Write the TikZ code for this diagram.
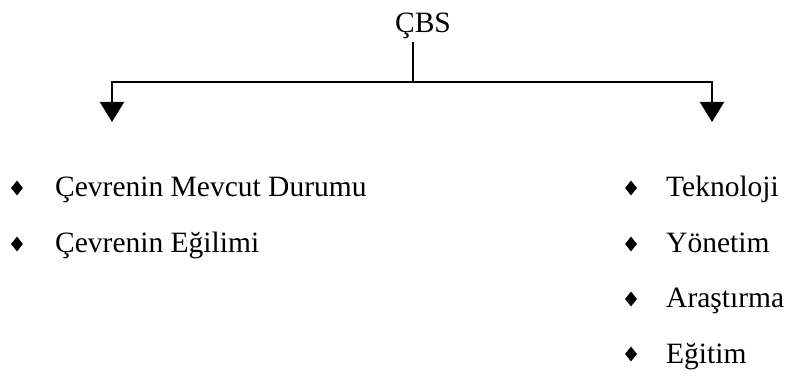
\documentclass[tikz,border=0pt]{standalone}
\usepackage{fontspec}
\setmainfont{Liberation Serif}
\usepackage{tikz}
\usetikzlibrary{positioning, shapes.geometric, arrows.meta}

\begin{document}
\begin{tikzpicture}[x=1pt,y=-1pt,
        every node/.style={font=\fontsize{29.5}{34}\selectfont},
        item/.style={anchor=base west,inner sep=0pt},
        bullet/.style={diamond,fill=black,inner sep=0pt,minimum width=12pt,minimum height=15pt},
        branch/.style={line width=2pt,-{Triangle[width=24pt,length=20pt]}}]
        \useasboundingbox (0,0) rectangle (793,382);

        \node[anchor=base,inner sep=0pt] (cbs) at (423,33) {ÇBS};
        \coordinate (stem) at (413,42);
        \coordinate (fork) at (413,82);
        \coordinate (left) at (112,122);
        \coordinate (right) at (712,122);

        % left column
        \node[bullet] (b1) at (17,188) {};
        \node[bullet] (b2) at (17,244) {};
        \node[item] (l1) at (55,197) {Çevrenin Mevcut Durumu};
        \node[item] (l2) at (55,253) {Çevrenin Eğilimi};

        % right column
        \node[bullet] (b3) at (631,188) {};
        \node[bullet] (b4) at (631,244) {};
        \node[bullet] (b5) at (631,299) {};
        \node[bullet] (b6) at (631,354) {};
        \node[item] (r1) at (666,197) {Teknoloji};
        \node[item] (r2) at (666,253) {Yönetim};
        \node[item] (r3) at (666,308) {Araştırma};
        \node[item] (r4) at (666,363) {Eğitim};

        \draw[line width=2pt] (stem) -- (fork);
        \draw[branch] (fork) -| (left);
        \draw[branch] (fork) -| (right);
    \end{tikzpicture}
\end{document}
